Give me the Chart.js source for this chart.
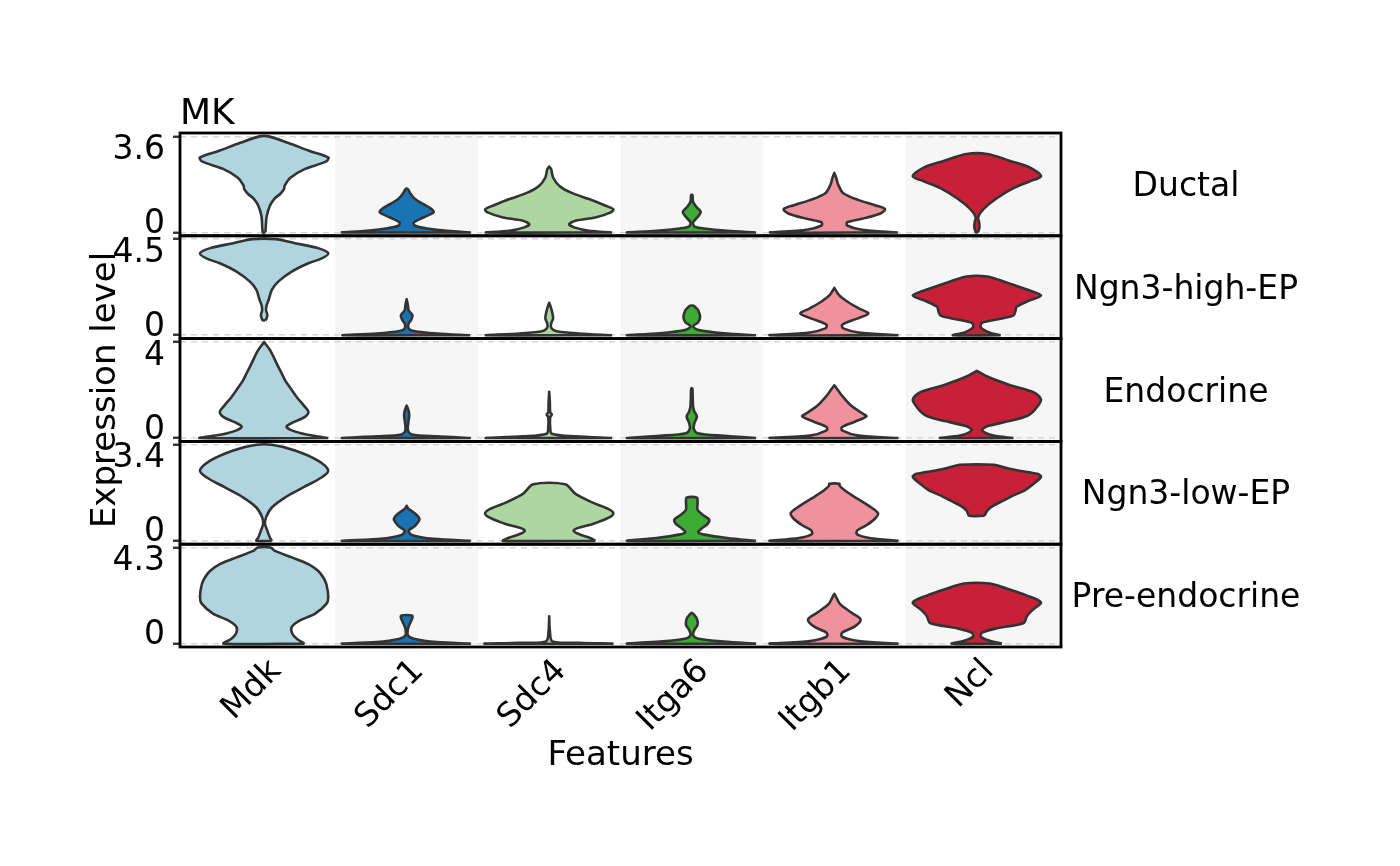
<!DOCTYPE html>
<html>
<head>
<meta charset="utf-8">
<script src="https://cdn.jsdelivr.net/npm/chart.js@4.4.1/dist/chart.umd.min.js"></script>
<style>
html,body{margin:0;padding:0;background:#fff}
#wrap{width:1400px;height:866px;position:relative}
</style>
</head>
<body>
<div id="wrap"><canvas id="c"></canvas></div>
<script>
const plotTitle = 'MK';
const features = ['Mdk', 'Sdc1', 'Sdc4', 'Itga6', 'Itgb1', 'Ncl'];
const cellTypes = ['Ductal', 'Ngn3-high-EP', 'Endocrine', 'Ngn3-low-EP', 'Pre-endocrine'];
const rowMax = [3.6, 4.5, 4, 3.4, 4.3];
const featureColors = ['#B0D5DF', '#1A74B4', '#ADD6A1', '#3DAB34', '#F0929E', '#C92039'];
const xLabel = 'Features';
const yLabel = 'Expression level';

// violin outlines: [expression level, relative half-width (1 = widest)]
const ductal = [
  [[0,0.02],[0.6,0.04],[1.0,0.09],[1.26,0.16],[1.44,0.25],[1.62,0.31],[1.75,0.32],[2.05,0.41],[2.38,0.64],[2.66,0.97],[2.81,1.0],[3.06,0.70],[3.35,0.38],[3.6,0.07]],
  [[0,1.0],[0.06,0.63],[0.15,0.32],[0.25,0.13],[0.37,0.11],[0.56,0.26],[0.75,0.42],[0.87,0.39],[1.06,0.26],[1.25,0.13],[1.49,0.05],[1.62,0.02]],
  [[0,0.98],[0.06,0.62],[0.19,0.39],[0.31,0.31],[0.44,0.41],[0.56,0.72],[0.75,0.96],[0.87,1.0],[1.0,0.88],[1.25,0.62],[1.49,0.34],[1.74,0.16],[2.06,0.06],[2.37,0.03],[2.47,0]],
  [[0,1.0],[0.06,0.55],[0.15,0.19],[0.23,0.04],[0.38,0.02],[0.55,0.08],[0.77,0.14],[0.96,0.07],[1.15,0.02],[1.4,0.01]],
  [[0,0.99],[0.10,0.43],[0.26,0.2],[0.38,0.2],[0.51,0.43],[0.70,0.71],[0.87,0.79],[1.02,0.63],[1.21,0.38],[1.47,0.14],[1.79,0.06],[2.04,0.03],[2.23,0]],
  [[0,0.012],[0.06,0.025],[0.19,0.04],[0.38,0.035],[0.58,0.02],[0.89,0.11],[1.28,0.31],[1.66,0.57],[1.92,0.83],[2.11,1.0],[2.43,0.83],[2.68,0.52],[2.94,0.16]]
];
const ngn3High = [
  [[0.7,0.02],[0.74,0.03],[0.94,0.05],[1.17,0.03],[1.41,0.04],[1.65,0.07],[2.12,0.12],[2.51,0.22],[2.98,0.43],[3.37,0.69],[3.60,0.9],[3.84,1.0],[4.08,0.84],[4.31,0.48],[4.5,0.18]],
  [[0,0.99],[0.08,0.47],[0.20,0.11],[0.32,0.03],[0.55,0.03],[0.71,0.07],[0.94,0.09],[1.17,0.03],[1.41,0.02],[1.68,0]],
  [[0,0.98],[0.08,0.46],[0.20,0.10],[0.36,0.03],[0.55,0.03],[0.78,0.06],[1.02,0.05],[1.26,0.03],[1.52,0]],
  [[0,1.0],[0.09,0.5],[0.26,0.09],[0.42,0.02],[0.61,0.1],[0.85,0.13],[1.17,0.1],[1.33,0.05],[1.38,0.03]],
  [[0,1.0],[0.13,0.38],[0.32,0.14],[0.48,0.12],[0.69,0.27],[1.01,0.53],[1.26,0.38],[1.58,0.2],[1.89,0.07],[2.22,0]],
  [[0,0.37],[0.13,0.19],[0.37,0.06],[0.58,0.08],[0.77,0.37],[0.93,0.57],[1.13,0.6],[1.33,0.62],[1.58,0.78],[1.86,1.0],[2.14,0.78],[2.46,0.47],[2.75,0.16]]
];
const endocrine = [
  [[0,1.0],[0.15,0.66],[0.32,0.43],[0.48,0.35],[0.66,0.46],[0.87,0.63],[1.08,0.69],[1.35,0.62],[1.70,0.51],[2.04,0.42],[2.39,0.33],[2.66,0.28],[3.08,0.2],[3.63,0.1],[4.0,0]],
  [[0,1.0],[0.07,0.47],[0.15,0.08],[0.32,0.02],[0.73,0.03],[0.94,0.04],[1.14,0.03],[1.35,0]],
  [[0,0.98],[0.07,0.41],[0.18,0.04],[0.46,0.015],[0.87,0.015],[0.98,0.04],[1.08,0.015],[1.49,0.01],[1.93,0]],
  [[0,1.0],[0.09,0.5],[0.20,0.09],[0.39,0.03],[0.61,0.04],[0.90,0.08],[1.11,0.04],[1.33,0.02],[2.05,0.01],[2.08,0]],
  [[0,1.0],[0.10,0.38],[0.32,0.12],[0.46,0.12],[0.68,0.32],[0.90,0.5],[1.04,0.43],[1.33,0.27],[1.76,0.12],[2.05,0.04],[2.2,0]],
  [[0,0.57],[0.10,0.26],[0.32,0.08],[0.49,0.16],[0.75,0.57],[0.92,0.78],[1.11,0.88],[1.59,1.0],[1.91,0.88],[2.20,0.52],[2.56,0.16],[2.8,0]]
];
const ngn3Low = [
  [[0,0.12],[0.12,0.09],[0.36,0.05],[0.59,0.015],[0.83,0.03],[1.18,0.12],[1.54,0.33],[1.89,0.61],[2.25,0.9],[2.49,1.0],[2.84,0.84],[3.2,0.48],[3.4,0.12]],
  [[0,1.0],[0.07,0.42],[0.21,0.08],[0.36,0.03],[0.53,0.13],[0.77,0.2],[0.97,0.13],[1.13,0.03],[1.24,0]],
  [[0,0.72],[0.1,0.64],[0.24,0.46],[0.36,0.38],[0.45,0.44],[0.59,0.67],[0.81,0.92],[0.97,1.0],[1.13,0.92],[1.36,0.67],[1.66,0.41],[2.0,0.25]],
  [[0,1.0],[0.10,0.55],[0.22,0.2],[0.31,0.1],[0.43,0.15],[0.61,0.25],[0.76,0.27],[0.92,0.17],[1.10,0.09],[1.35,0.09],[1.53,0.08]],
  [[0,1.0],[0.10,0.55],[0.24,0.35],[0.37,0.36],[0.55,0.5],[0.80,0.64],[0.98,0.68],[1.22,0.55],[1.53,0.33],[1.77,0.17],[1.96,0.08],[2.02,0.08]],
  [[0.89,0.12],[1.07,0.16],[1.24,0.25],[1.42,0.41],[1.60,0.56],[1.78,0.74],[2.01,0.88],[2.27,1.0],[2.37,0.94],[2.49,0.64],[2.61,0.41],[2.69,0.27]]
];
const preEndocrine = [
  [[0,0.63],[0.22,0.51],[0.44,0.44],[0.74,0.43],[1.04,0.56],[1.33,0.79],[1.78,0.97],[2.08,1.0],[2.67,0.97],[2.97,0.92],[3.26,0.84],[3.56,0.69],[3.86,0.43],[4.15,0.17],[4.3,0.1]],
  [[0,1.0],[0.07,0.47],[0.22,0.11],[0.37,0.02],[0.67,0.02],[0.96,0.06],[1.16,0.09],[1.26,0.08]],
  [[0,1.0],[0.04,0.46],[0.10,0.05],[0.59,0.01],[1.22,0]],
  [[0,1.0],[0.09,0.5],[0.23,0.09],[0.38,0.02],[0.61,0.04],[0.84,0.09],[1.11,0.08],[1.31,0.03],[1.38,0]],
  [[0,1.0],[0.12,0.38],[0.31,0.12],[0.49,0.12],[0.77,0.32],[1.08,0.41],[1.38,0.27],[1.77,0.09],[2.07,0.03],[2.23,0]],
  [[0,0.39],[0.12,0.21],[0.31,0.06],[0.49,0.08],[0.69,0.31],[0.92,0.73],[1.23,0.78],[1.54,0.88],[1.84,1.0],[2.15,0.78],[2.46,0.47],[2.69,0.2]]
];
const rows = [ductal, ngn3High, endocrine, ngn3Low, preEndocrine];

// ---------- build chart ----------
const FONT = "'DejaVu Sans', sans-serif";
Chart.defaults.font.family = FONT;
Chart.defaults.color = '#000';
const HALF = 0.45;

const datasets = [];
rows.forEach((rowProfiles, r) => {
  rowProfiles.forEach((prof, g) => {
    const right = prof.map(([v, w]) => ({x: g + w * HALF, y: v}));
    const left = prof.slice().reverse().map(([v, w]) => ({x: g - w * HALF, y: v}));
    datasets.push({
      data: right.concat(left, [right[0]]),
      yAxisID: 'y' + r,
      showLine: true,
      fill: 'shape',
      backgroundColor: featureColors[g],
      borderColor: '#333333',
      borderWidth: 2.6,
      borderJoinStyle: 'round',
      tension: 0.3,
      pointRadius: 0,
      pointHoverRadius: 0
    });
  });
});

const scales = {
  x: {
    type: 'linear',
    min: -0.59,
    max: features.length - 1 + 0.59,
    grid: {display: false, drawTicks: false},
    border: {display: false},
    afterBuildTicks: (s) => { s.ticks = features.map((f, i) => ({value: i})); },
    afterFit: (s) => { s.height = 130; },
    ticks: {
      autoSkip: false,
      minRotation: 45,
      maxRotation: 45,
      padding: 5,
      labelOffset: 12,
      color: '#000',
      font: {size: 33},
      callback: (v) => features[v]
    },
    title: {display: true, text: xLabel, color: '#000', font: {size: 34}, padding: {top: 0, bottom: 0}}
  }
};
cellTypes.forEach((ct, r) => {
  const M = rowMax[r];
  const pad = 0.035 * M;
  scales['y' + r] = {
    type: 'linear',
    position: 'left',
    stack: 'rows',
    stackWeight: 1,
    weight: cellTypes.length - r,
    min: -pad,
    max: M + pad,
    afterBuildTicks: (s) => { s.ticks = [{value: 0}, {value: M}]; },
    afterFit: (s) => { s.width = 180; },
    grid: {
      display: true,
      drawOnChartArea: true,
      color: '#d6d6d6',
      lineWidth: 1.5,
      drawTicks: true,
      tickLength: 7,
      tickColor: '#333333',
      tickWidth: 2.4,
      tickBorderDash: []
    },
    border: {display: false, dash: [6, 5]},
    ticks: {
      padding: 8,
      color: '#000',
      labelOffset: 3,
      font: {size: 33, lineHeight: 0.667},
      callback: (v) => v === 0 ? ['0', ''] : ['', String(v)]
    },
    title: {
      display: r === 2,
      text: yLabel,
      color: '#000',
      font: {size: 34},
      padding: {top: 86, bottom: 0}
    }
  };
});

const panelPlugin = {
  id: 'panels',
  beforeDraw(chart) {
    const {ctx, chartArea: a, scales: sc} = chart;
    const xs = sc.x;
    ctx.save();
    ctx.fillStyle = '#f6f6f6';
    features.forEach((f, i) => {
      if (i % 2 === 1) {
        const l = xs.getPixelForValue(i - 0.5);
        const r = i === features.length - 1 ? a.right : xs.getPixelForValue(i + 0.5);
        ctx.fillRect(l, a.top, r - l, a.bottom - a.top);
      }
    });
    ctx.restore();
  },
  afterDatasetsDraw(chart) {
    const {ctx, chartArea: a, scales: sc} = chart;
    ctx.save();
    ctx.strokeStyle = '#000';
    ctx.lineWidth = 2.8;
    cellTypes.forEach((ct, r) => {
      const ys = sc['y' + r];
      ctx.strokeRect(a.left, ys.top, a.right - a.left, ys.bottom - ys.top);
    });
    ctx.fillStyle = '#000';
    ctx.font = '33px ' + FONT;
    ctx.textAlign = 'center';
    ctx.textBaseline = 'middle';
    cellTypes.forEach((ct, r) => {
      const ys = sc['y' + r];
      ctx.fillText(ct, a.right + 125, (ys.top + ys.bottom) / 2 + 3);
    });
    ctx.restore();
  }
};

new Chart(document.getElementById('c'), {
  type: 'scatter',
  data: {datasets},
  options: {
    responsive: true,
    maintainAspectRatio: false,
    animation: false,
    events: [],
    layout: {padding: {left: 0, top: 97, right: 339, bottom: 89}},
    scales,
    plugins: {
      legend: {display: false},
      tooltip: {enabled: false},
      title: {
        display: true,
        text: plotTitle,
        align: 'start',
        fullSize: false,
        color: '#000',
        font: {size: 36, weight: 'normal', lineHeight: 1},
        padding: {top: 0, bottom: 0}
      }
    }
  },
  plugins: [panelPlugin]
});
</script>
</body>
</html>
